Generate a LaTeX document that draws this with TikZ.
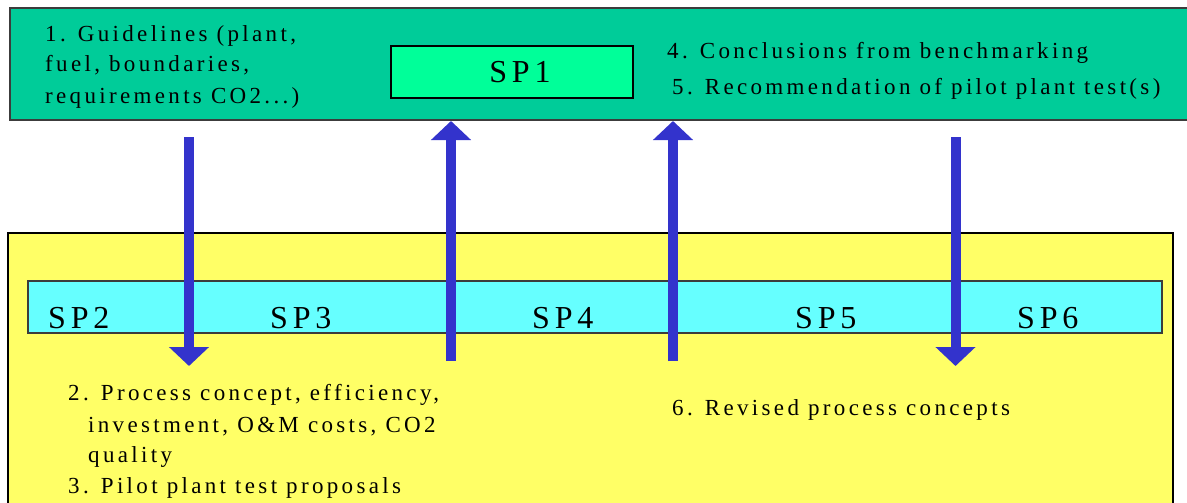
\documentclass[tikz,border=0pt]{standalone}
\usepackage{fontspec}
\setmainfont{Liberation Serif}[LetterSpace=14.5]
\newfontfamily\spfont{Liberation Serif}[LetterSpace=15]
\usetikzlibrary{arrows.meta}
\definecolor{topgreen}{RGB}{0,204,153}
\definecolor{spgreen}{RGB}{0,255,153}
\definecolor{ylw}{RGB}{255,255,102}
\definecolor{cyanbar}{RGB}{102,255,255}
\definecolor{arrowblue}{RGB}{51,51,204}
\definecolor{edge}{RGB}{60,60,60}
\tikzset{
  panel/.style={draw=edge, line width=1.5pt, inner sep=0pt, outer sep=0pt, anchor=north west},
  bodytext/.style={anchor=base west, inner sep=0pt, font=\fontsize{23}{30}\selectfont},
  splabel/.style={anchor=base west, inner sep=0pt, font=\spfont\fontsize{32}{36}\selectfont},
  bigarrow/.style={draw=arrowblue, line width=10pt, -{Triangle[width=39pt,length=19pt]}},
}
\begin{document}
\begin{tikzpicture}[x=1pt,y=-1pt]
\useasboundingbox (0,0) rectangle (1187,503);
% top panel
\node[panel, fill=topgreen, minimum width=1185pt, minimum height=112pt] (top) at (10,8) {};
\node[panel, fill=spgreen, line width=1.2pt, draw=black, minimum width=242pt, minimum height=52pt] (sp1box) at (391,46) {};
\node[anchor=base, inner sep=0pt, font=\spfont\fontsize{32}{36}\selectfont] (sp1) at (520,83) {SP1};
\node[bodytext] (t1a) at (45,42) {1. Guidelines (plant,};
\node[bodytext] (t1b) at (45,72) {fuel, boundaries,};
\node[bodytext] (t1c) at (45,103) {requirements CO2...)};
\node[bodytext] (t4) at (667,59) {4. Conclusions from benchmarking};
\node[bodytext] (t5) at (672,95) {5. Recommendation of pilot plant test(s)};
% bottom panel
\node[panel, fill=ylw, draw=black, minimum width=1165pt, minimum height=290pt] (bottom) at (8,233) {};
\node[panel, fill=cyanbar, minimum width=1134pt, minimum height=52pt] (bar) at (28,281) {};
\node[splabel] (sp2) at (48,328) {SP2};
\node[splabel] (sp3) at (270,328) {SP3};
\node[splabel] (sp4) at (532,328) {SP4};
\node[splabel] (sp5) at (795,328) {SP5};
\node[splabel] (sp6) at (1017,328) {SP6};
\node[bodytext] (t2a) at (68,400) {2. Process concept, efficiency,};
\node[bodytext] (t2b) at (88,432) {investment, O\&M costs, CO2};
\node[bodytext] (t2c) at (88,462) {quality};
\node[bodytext] (t3) at (68,493) {3. Pilot plant test proposals};
\node[bodytext] (t6) at (672,415) {6. Revised process concepts};
% arrows
\coordinate (a1s) at (189,137);
\coordinate (a1e) at (189,366);
\coordinate (a2s) at (451,361);
\coordinate (a2e) at (451,121);
\coordinate (a3s) at (673,361);
\coordinate (a3e) at (673,121);
\coordinate (a4s) at (955.5,137);
\coordinate (a4e) at (955.5,366);
\draw[bigarrow] (a1s) -- (a1e);
\draw[bigarrow] (a2s) -- (a2e);
\draw[bigarrow] (a3s) -- (a3e);
\draw[bigarrow] (a4s) -- (a4e);
\end{tikzpicture}
\end{document}
